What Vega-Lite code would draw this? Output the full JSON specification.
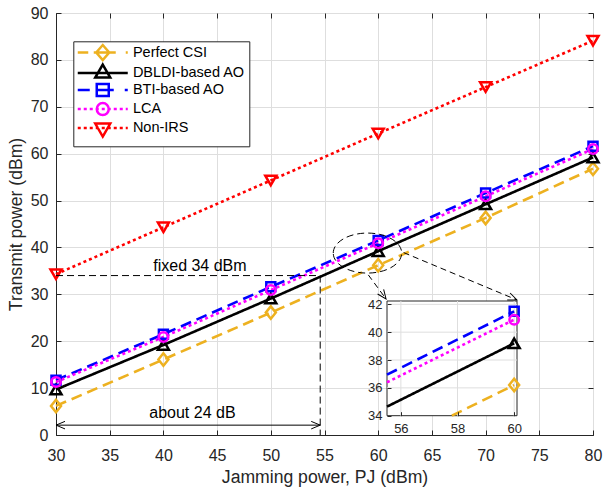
{
  "$schema": "https://vega.github.io/schema/vega-lite/v6.json",
  "width": 537,
  "height": 422,
  "autosize": {"type": "none"},
  "padding": {"left": 56, "top": 13, "right": 11, "bottom": 52},
  "background": "white",
  "config": {
    "view": {"stroke": "#262626", "strokeWidth": 1},
    "font": "Liberation Sans",
    "axis": {"labelFont": "Liberation Sans", "titleFont": "Liberation Sans", "labelFlush": false}
  },
  "resolve": {"scale": {"x": "independent", "y": "independent", "shape": "independent", "stroke": "independent"}},
  "layer": [
    {
      "data": {"values": [
        {"s": "Perfect CSI", "x": 30, "y": 6.2}, {"s": "Perfect CSI", "x": 40, "y": 16.1}, {"s": "Perfect CSI", "x": 50, "y": 26.1},
        {"s": "Perfect CSI", "x": 60, "y": 36.2}, {"s": "Perfect CSI", "x": 70, "y": 46.3}, {"s": "Perfect CSI", "x": 80, "y": 56.8},
        {"s": "DBLDI-based AO", "x": 30, "y": 9.7}, {"s": "DBLDI-based AO", "x": 40, "y": 19.2}, {"s": "DBLDI-based AO", "x": 50, "y": 29.1},
        {"s": "DBLDI-based AO", "x": 60, "y": 39.2}, {"s": "DBLDI-based AO", "x": 70, "y": 49.2}, {"s": "DBLDI-based AO", "x": 80, "y": 59.2},
        {"s": "BTI-based AO", "x": 30, "y": 11.7}, {"s": "BTI-based AO", "x": 40, "y": 21.5}, {"s": "BTI-based AO", "x": 50, "y": 31.6},
        {"s": "BTI-based AO", "x": 60, "y": 41.5}, {"s": "BTI-based AO", "x": 70, "y": 51.6}, {"s": "BTI-based AO", "x": 80, "y": 61.6},
        {"s": "LCA", "x": 30, "y": 11.3}, {"s": "LCA", "x": 40, "y": 20.9}, {"s": "LCA", "x": 50, "y": 30.9},
        {"s": "LCA", "x": 60, "y": 40.9}, {"s": "LCA", "x": 70, "y": 50.9}, {"s": "LCA", "x": 80, "y": 61.0},
        {"s": "Non-IRS", "x": 30, "y": 34.3}, {"s": "Non-IRS", "x": 40, "y": 44.3}, {"s": "Non-IRS", "x": 50, "y": 54.3},
        {"s": "Non-IRS", "x": 60, "y": 64.3}, {"s": "Non-IRS", "x": 70, "y": 74.2}, {"s": "Non-IRS", "x": 80, "y": 84.1}
      ]},
      "encoding": {
        "x": {"field": "x", "type": "quantitative",
          "scale": {"domain": [30, 80], "nice": false, "zero": false},
          "axis": {"values": [30, 35, 40, 45, 50, 55, 60, 65, 70, 75, 80], "title": "Jamming power, PJ (dBm)",
            "grid": true, "gridColor": "#dedede", "gridOpacity": 1, "domainColor": "#262626", "tickColor": "#262626",
            "tickSize": -5, "labelPadding": 17, "labelFontSize": 16, "labelColor": "#262626",
            "titleFontSize": 17.6, "titleFontWeight": "normal", "titleColor": "#262626", "titlePadding": 5, "labelFlush": false}},
        "y": {"field": "y", "type": "quantitative",
          "scale": {"domain": [0, 90], "nice": false, "zero": false},
          "axis": {"values": [0, 10, 20, 30, 40, 50, 60, 70, 80, 90], "title": "Transmit power (dBm)",
            "grid": true, "gridColor": "#dedede", "gridOpacity": 1, "domainColor": "#262626", "tickColor": "#262626",
            "tickSize": -5, "labelPadding": 13, "labelFontSize": 16, "labelColor": "#262626",
            "titleFontSize": 17.6, "titleFontWeight": "normal", "titleColor": "#262626", "titlePadding": 5}}
      },
      "layer": [
        {"mark": {"type": "line", "strokeWidth": 2.6},
         "encoding": {
           "color": {"field": "s", "type": "nominal", "legend": null,
             "scale": {"domain": ["Perfect CSI", "DBLDI-based AO", "BTI-based AO", "LCA", "Non-IRS"],
                       "range": ["#EDB120", "#000000", "#0000FF", "#FF00FF", "#FF0000"]}},
           "strokeDash": {"field": "s", "type": "nominal",
           "scale": {"domain": ["Perfect CSI", "DBLDI-based AO", "BTI-based AO", "LCA", "Non-IRS"],
                     "range": [[11, 6], [1, 0], [11, 6], [3, 3], [3, 3]]}, "legend": null}}},
        {"mark": {"type": "point", "filled": false, "strokeWidth": 2.5, "opacity": 1, "size": 100},
         "encoding": {
           "color": {"field": "s", "type": "nominal", "legend": null,
             "scale": {"domain": ["Perfect CSI", "DBLDI-based AO", "BTI-based AO", "LCA", "Non-IRS"],
                       "range": ["#EDB120", "#000000", "#0000FF", "#FF00FF", "#FF0000"]}},
           "shape": {"field": "s", "type": "nominal",
           "scale": {"domain": ["Perfect CSI", "DBLDI-based AO", "BTI-based AO", "LCA", "Non-IRS"],
                     "range": ["M0,-1.25L1,0L0,1.25L-1,0Z", "M0,-0.95L1.1,0.95L-1.1,0.95Z", "M-0.9,-0.9L0.9,-0.9L0.9,0.9L-0.9,0.9Z", "M-0.95,0A0.95,0.95,0,1,1,0.95,0A0.95,0.95,0,1,1,-0.95,0Z", "M0,0.95L1.1,-0.95L-1.1,-0.95Z"]},
           "legend": null}}}
      ]
    },
    {
      "encoding": {
        "x": {"field": "x", "type": "quantitative",
          "scale": {"domain": [30, 80], "nice": false, "zero": false},
          "axis": {"orient": "top", "values": [30, 35, 40, 45, 50, 55, 60, 65, 70, 75, 80], "labels": false, "title": null,
            "grid": false, "domain": false, "tickSize": -5, "tickColor": "#262626"}},
        "y": {"field": "y", "type": "quantitative",
          "scale": {"domain": [0, 90], "nice": false, "zero": false},
          "axis": {"orient": "right", "values": [0, 10, 20, 30, 40, 50, 60, 70, 80, 90], "labels": false, "title": null,
            "grid": false, "domain": false, "tickSize": -5, "tickColor": "#262626"}}
      },
      "layer": [
        {"data": {"values": [{"x": 30, "y": 34, "x2": 54.6}]},
         "mark": {"type": "rule", "strokeDash": [7, 4], "strokeWidth": 1, "color": "black"},
         "encoding": {"x2": {"field": "x2"}}},
        {"data": {"values": [{"x": 54.6, "y": 34, "y2": 0}]},
         "mark": {"type": "rule", "strokeDash": [7, 4], "strokeWidth": 1, "color": "black"},
         "encoding": {"y2": {"field": "y2"}}},
        {"data": {"values": [{"x": 30, "y": 2.1, "x2": 54.6}]},
         "mark": {"type": "rule", "strokeWidth": 1, "color": "black"},
         "encoding": {"x2": {"field": "x2"}}},
        {"data": {"values": [{"x": 59.08, "y": 34.14, "x2": 60.73, "y2": 29.02}, {"x": 62.37, "y": 38.9, "x2": 72.92, "y2": 28.8}]},
         "mark": {"type": "rule", "strokeDash": [6, 4], "strokeWidth": 1, "color": "black"},
         "encoding": {"x2": {"field": "x2"}, "y2": {"field": "y2"}}},
        {"data": {"values": [{"x": 59.0, "y": 38.8}]},
         "mark": {"type": "point", "shape": "M-1,0A1,0.585,0,1,1,1,0A1,0.585,0,1,1,-1,0Z", "size": 4679, "filled": false,
                  "stroke": "black", "strokeWidth": 1, "strokeDash": [7, 4], "opacity": 1}},
        {"data": {"values": [{"x": 30, "y": 2.1}]},
         "mark": {"type": "point", "shape": "M-1,-0.42L0,0L-1,0.42", "size": 324, "angle": 180, "filled": false, "stroke": "black", "strokeWidth": 1, "opacity": 1}},
        {"data": {"values": [{"x": 54.6, "y": 2.1}]},
         "mark": {"type": "point", "shape": "M-1,-0.42L0,0L-1,0.42", "size": 324, "angle": 0, "filled": false, "stroke": "black", "strokeWidth": 1, "opacity": 1}},
        {"data": {"values": [{"x": 60.73, "y": 29.02}]},
         "mark": {"type": "point", "shape": "M-1,-0.42L0,0L-1,0.42", "size": 324, "angle": 53, "filled": false, "stroke": "black", "strokeWidth": 1, "opacity": 1}},
        {"data": {"values": [{"x": 72.92, "y": 28.8}]},
         "mark": {"type": "point", "shape": "M-1,-0.42L0,0L-1,0.42", "size": 324, "angle": 22.6, "filled": false, "stroke": "black", "strokeWidth": 1, "opacity": 1}},
        {"data": {"values": [{"x": 43.4, "y": 35.0, "t": "fixed 34 dBm"}, {"x": 42.7, "y": 3.6, "t": "about 24 dB"}]},
         "mark": {"type": "text", "fontSize": 16, "align": "center", "baseline": "alphabetic", "color": "black", "font": "Liberation Sans"},
         "encoding": {"text": {"field": "t"}}},
        {"data": {"values": [{"s": "Perfect CSI"}, {"s": "DBLDI-based AO"}, {"s": "BTI-based AO"}, {"s": "LCA"}, {"s": "Non-IRS"}]},
         "mark": {"type": "point", "filled": false, "strokeWidth": 2.5, "opacity": 0},
         "encoding": {
           "stroke": {"field": "s", "type": "nominal",
             "scale": {"domain": ["BTI-based AO", "DBLDI-based AO", "LCA", "Non-IRS", "Perfect CSI"],
                       "range": ["#0000FF", "#000000", "#FF00FF", "#FF0000", "#EDB120"]},
             "legend": {
               "values": ["Perfect CSI", "DBLDI-based AO", "BTI-based AO", "LCA", "Non-IRS"],
               "title": null, "orient": "none", "legendX": 17.3, "legendY": 28.3,
               "padding": 4, "strokeColor": "#262626", "fillColor": "white", "cornerRadius": 0,
               "labelFont": "Liberation Sans", "labelFontSize": 14.5, "labelColor": "#000000", "labelLimit": 300,
               "symbolSize": 100, "symbolStrokeWidth": 2.5, "symbolOpacity": 1, "rowPadding": -6.5,
               "symbolOffset": 18.2, "labelOffset": 22.9}},
           "shape": {"field": "s", "type": "nominal",
             "scale": {"domain": ["BTI-based AO", "DBLDI-based AO", "LCA", "Non-IRS", "Perfect CSI"],
                       "range": [
                         "M-5,0L-2.6,0M-1.2,0L2.2,0M4.4,0L5,0M-1.2,-1.2L1.2,-1.2L1.2,1.2L-1.2,1.2Z",
                         "M-5,0L5,0M0,-1.7L1.5,0.9L-1.5,0.9Z",
                         "M-5,0L-4.4,0M-3.8,0L-3.2,0M-2.6,0L-2,0M-1.4,0L-0.8,0M-0.2,0L0.4,0M1,0L1.6,0M2.2,0L2.8,0M3.4,0L4,0M4.6,0L5,0M-1.2,0A1.2,1.2,0,1,1,1.2,0A1.2,1.2,0,1,1,-1.2,0Z",
                         "M-5,0L-4.4,0M-3.8,0L-3.2,0M-2.6,0L-2,0M-1.4,0L-0.8,0M-0.2,0L0.4,0M1,0L1.6,0M2.2,0L2.8,0M3.4,0L4,0M4.6,0L5,0M0,1.7L1.5,-0.9L-1.5,-0.9Z",
                         "M-5,0L-2.9,0M-1.8,0L2.6,0M4.6,0L5,0M0,-1.5L1.3,0L0,1.5L-1.3,0Z"]},
             "legend": {
               "values": ["Perfect CSI", "DBLDI-based AO", "BTI-based AO", "LCA", "Non-IRS"],
               "title": null, "orient": "none", "legendX": 17.3, "legendY": 28.3,
               "padding": 4, "strokeColor": "#262626", "fillColor": "white", "cornerRadius": 0,
               "labelFont": "Liberation Sans", "labelFontSize": 14.5, "labelColor": "#000000", "labelLimit": 300,
               "symbolSize": 100, "symbolStrokeWidth": 2.5, "symbolOpacity": 1, "rowPadding": -6.5,
               "symbolOffset": 18.2, "labelOffset": 22.9}}
         }}
      ]
    },
    {
      "encoding": {
        "x": {"field": "x", "type": "quantitative",
          "scale": {"domain": [55.51, 60.1], "range": [331, 461], "nice": false, "zero": false},
          "axis": {"orient": "bottom", "offset": -19.3, "values": [56, 58, 60], "title": null, "grid": false, "domain": false,
            "tickSize": -4, "tickColor": "#262626", "labelFontSize": 13, "labelPadding": 10.3, "labelColor": "#262626", "labelFlush": false, "zindex": 1}},
        "y": {"field": "y", "type": "quantitative",
          "scale": {"domain": [34, 42.24], "range": [402.7, 288], "nice": false, "zero": false},
          "axis": {"orient": "left", "offset": -331, "values": [34, 36, 38, 40, 42], "title": null, "grid": false, "domain": false,
            "tickSize": -4, "tickColor": "#262626", "labelFontSize": 13, "labelPadding": 9, "labelColor": "#262626", "zindex": 1}}
      },
      "layer": [
        {"data": {"values": [{"x": 55.51, "y": 34, "x2": 60.1, "y2": 42.24}]},
         "mark": {"type": "rect", "fill": "white", "stroke": "#262626", "strokeWidth": 1},
         "encoding": {"x2": {"field": "x2"}, "y2": {"field": "y2"}}},
        {"data": {"values": [{"x": 56, "y": 34, "y2": 42.24}, {"x": 58, "y": 34, "y2": 42.24}, {"x": 60, "y": 34, "y2": 42.24}]},
         "mark": {"type": "rule", "color": "#dedede", "strokeWidth": 1},
         "encoding": {"y2": {"field": "y2"}}},
        {"data": {"values": [{"x": 55.51, "y": 36, "x2": 60.1}, {"x": 55.51, "y": 38, "x2": 60.1}, {"x": 55.51, "y": 40, "x2": 60.1}, {"x": 55.51, "y": 42, "x2": 60.1}]},
         "mark": {"type": "rule", "color": "#dedede", "strokeWidth": 1},
         "encoding": {"x2": {"field": "x2"}}},
        {"data": {"values": [
           {"s": "Perfect CSI", "x": 57.8, "y": 34.0}, {"s": "Perfect CSI", "x": 60, "y": 36.2},
           {"s": "DBLDI-based AO", "x": 55.51, "y": 34.65}, {"s": "DBLDI-based AO", "x": 60, "y": 39.2},
           {"s": "BTI-based AO", "x": 55.51, "y": 36.95}, {"s": "BTI-based AO", "x": 60, "y": 41.5},
           {"s": "LCA", "x": 55.51, "y": 36.4}, {"s": "LCA", "x": 60, "y": 40.9}
         ]},
         "mark": {"type": "line", "strokeWidth": 2.6},
         "encoding": {
           "color": {"field": "s", "type": "nominal", "legend": null,
             "scale": {"domain": ["Perfect CSI", "DBLDI-based AO", "BTI-based AO", "LCA", "Non-IRS"],
                       "range": ["#EDB120", "#000000", "#0000FF", "#FF00FF", "#FF0000"]}},
           "strokeDash": {"field": "s", "type": "nominal", "legend": null,
             "scale": {"domain": ["Perfect CSI", "DBLDI-based AO", "BTI-based AO", "LCA", "Non-IRS"],
                       "range": [[11, 6], [1, 0], [11, 6], [3, 3], [3, 3]]}}}},
        {"data": {"values": [
           {"s": "Perfect CSI", "x": 60, "y": 36.2}, {"s": "DBLDI-based AO", "x": 60, "y": 39.2},
           {"s": "BTI-based AO", "x": 60, "y": 41.5}, {"s": "LCA", "x": 60, "y": 40.9}
         ]},
         "mark": {"type": "point", "filled": false, "strokeWidth": 2.5, "opacity": 1, "size": 100},
         "encoding": {
           "color": {"field": "s", "type": "nominal", "legend": null,
             "scale": {"domain": ["Perfect CSI", "DBLDI-based AO", "BTI-based AO", "LCA", "Non-IRS"],
                       "range": ["#EDB120", "#000000", "#0000FF", "#FF00FF", "#FF0000"]}},
           "shape": {"field": "s", "type": "nominal", "legend": null,
             "scale": {"domain": ["Perfect CSI", "DBLDI-based AO", "BTI-based AO", "LCA", "Non-IRS"],
                       "range": ["M0,-1.25L1,0L0,1.25L-1,0Z", "M0,-0.95L1.1,0.95L-1.1,0.95Z", "M-0.9,-0.9L0.9,-0.9L0.9,0.9L-0.9,0.9Z", "M-0.95,0A0.95,0.95,0,1,1,0.95,0A0.95,0.95,0,1,1,-0.95,0Z", "M0,0.95L1.1,-0.95L-1.1,-0.95Z"]}}}}
      ]
    }
  ]
}
